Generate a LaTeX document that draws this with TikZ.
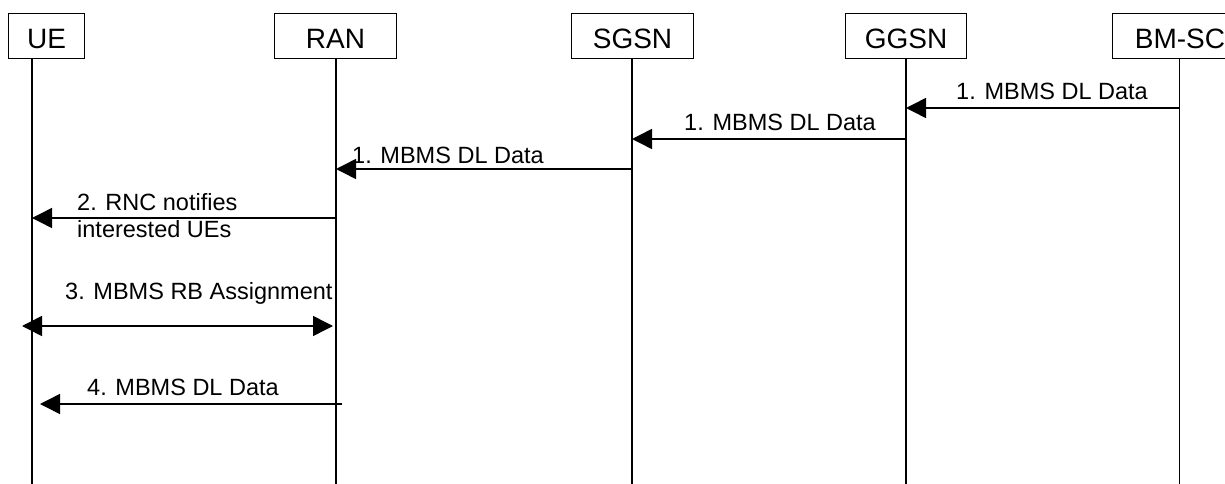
\documentclass[tikz,border=0pt]{standalone}
\usepackage{fontspec}
\setmainfont{Liberation Sans}
\usetikzlibrary{arrows.meta}
\tikzset{
  entity/.style={draw, line width=1pt, minimum height=45pt, inner sep=0pt, anchor=north west,
    text height=25pt, text depth=0pt, font=\fontsize{28}{30}\selectfont},
  life/.style={line width=1.7pt},
  msg/.style={line width=1.5pt, -{Triangle[length=20pt,width=20pt]}},
  dmsg/.style={line width=1.5pt, {Triangle[length=20pt,width=20pt]}-{Triangle[length=20pt,width=20pt]}},
  lbl/.style={anchor=base west, inner sep=0pt, font=\fontsize{23.5}{27}\selectfont, align=left}
}
\begin{document}
\begin{tikzpicture}[x=1pt,y=-1pt]
\useasboundingbox (0,0) rectangle (1225,484);
\clip (0,0) rectangle (1225,484);
% entity boxes
\node[entity, minimum width=76pt] (ue) at (8,13) {UE};
\node[entity, minimum width=122pt] (ran) at (274,13) {RAN};
\node[entity, minimum width=122pt] (sgsn) at (571,13) {SGSN};
\node[entity, minimum width=121pt] (ggsn) at (845,13) {GGSN};
\node[entity, minimum width=135pt] (bmsc) at (1112,13) {BM-SC};
% lifelines
\coordinate (ueT) at (32,58);   \coordinate (ueB) at (32,484);
\coordinate (ranT) at (336,58); \coordinate (ranB) at (336,484);
\coordinate (sgT) at (632,58);  \coordinate (sgB) at (632,484);
\coordinate (ggT) at (906,58);  \coordinate (ggB) at (906,484);
\coordinate (bmT) at (1179.5,58); \coordinate (bmB) at (1179.5,484);
\draw[life] (ueT) -- (ueB);
\draw[life] (ranT) -- (ranB);
\draw[life] (sgT) -- (sgB);
\draw[life] (ggT) -- (ggB);
\draw[life] (bmT) -- (bmB);
% message end points
\coordinate (m1s) at (1179.5,108); \coordinate (m1e) at (906,108);
\coordinate (m2s) at (906,139);    \coordinate (m2e) at (632,139);
\coordinate (m3s) at (632,169);    \coordinate (m3e) at (336,169);
\coordinate (m4s) at (336,218);    \coordinate (m4e) at (32,218);
\coordinate (m5s) at (22,326);     \coordinate (m5e) at (333,326);
\coordinate (m6s) at (342,404);    \coordinate (m6e) at (40,404);
% messages
\draw[msg] (m1s) -- (m1e);
\draw[msg] (m2s) -- (m2e);
\draw[msg] (m3s) -- (m3e);
\draw[msg] (m4s) -- (m4e);
\draw[dmsg] (m5s) -- (m5e);
\draw[msg] (m6s) -- (m6e);
% labels
\node[lbl] (l1) at (956,100) {1. MBMS DL Data};
\node[lbl] (l2) at (684,130.5) {1. MBMS DL Data};
\node[lbl] (l3) at (352,163) {1. MBMS DL Data};
\node[lbl] (l4a) at (77,210) {2. RNC notifies};
\node[lbl] (l4b) at (77,237) {interested UEs};
\node[lbl] (l5) at (65,299) {3. MBMS RB Assignment};
\node[lbl] (l6) at (87,395) {4. MBMS DL Data};
\end{tikzpicture}
\end{document}
